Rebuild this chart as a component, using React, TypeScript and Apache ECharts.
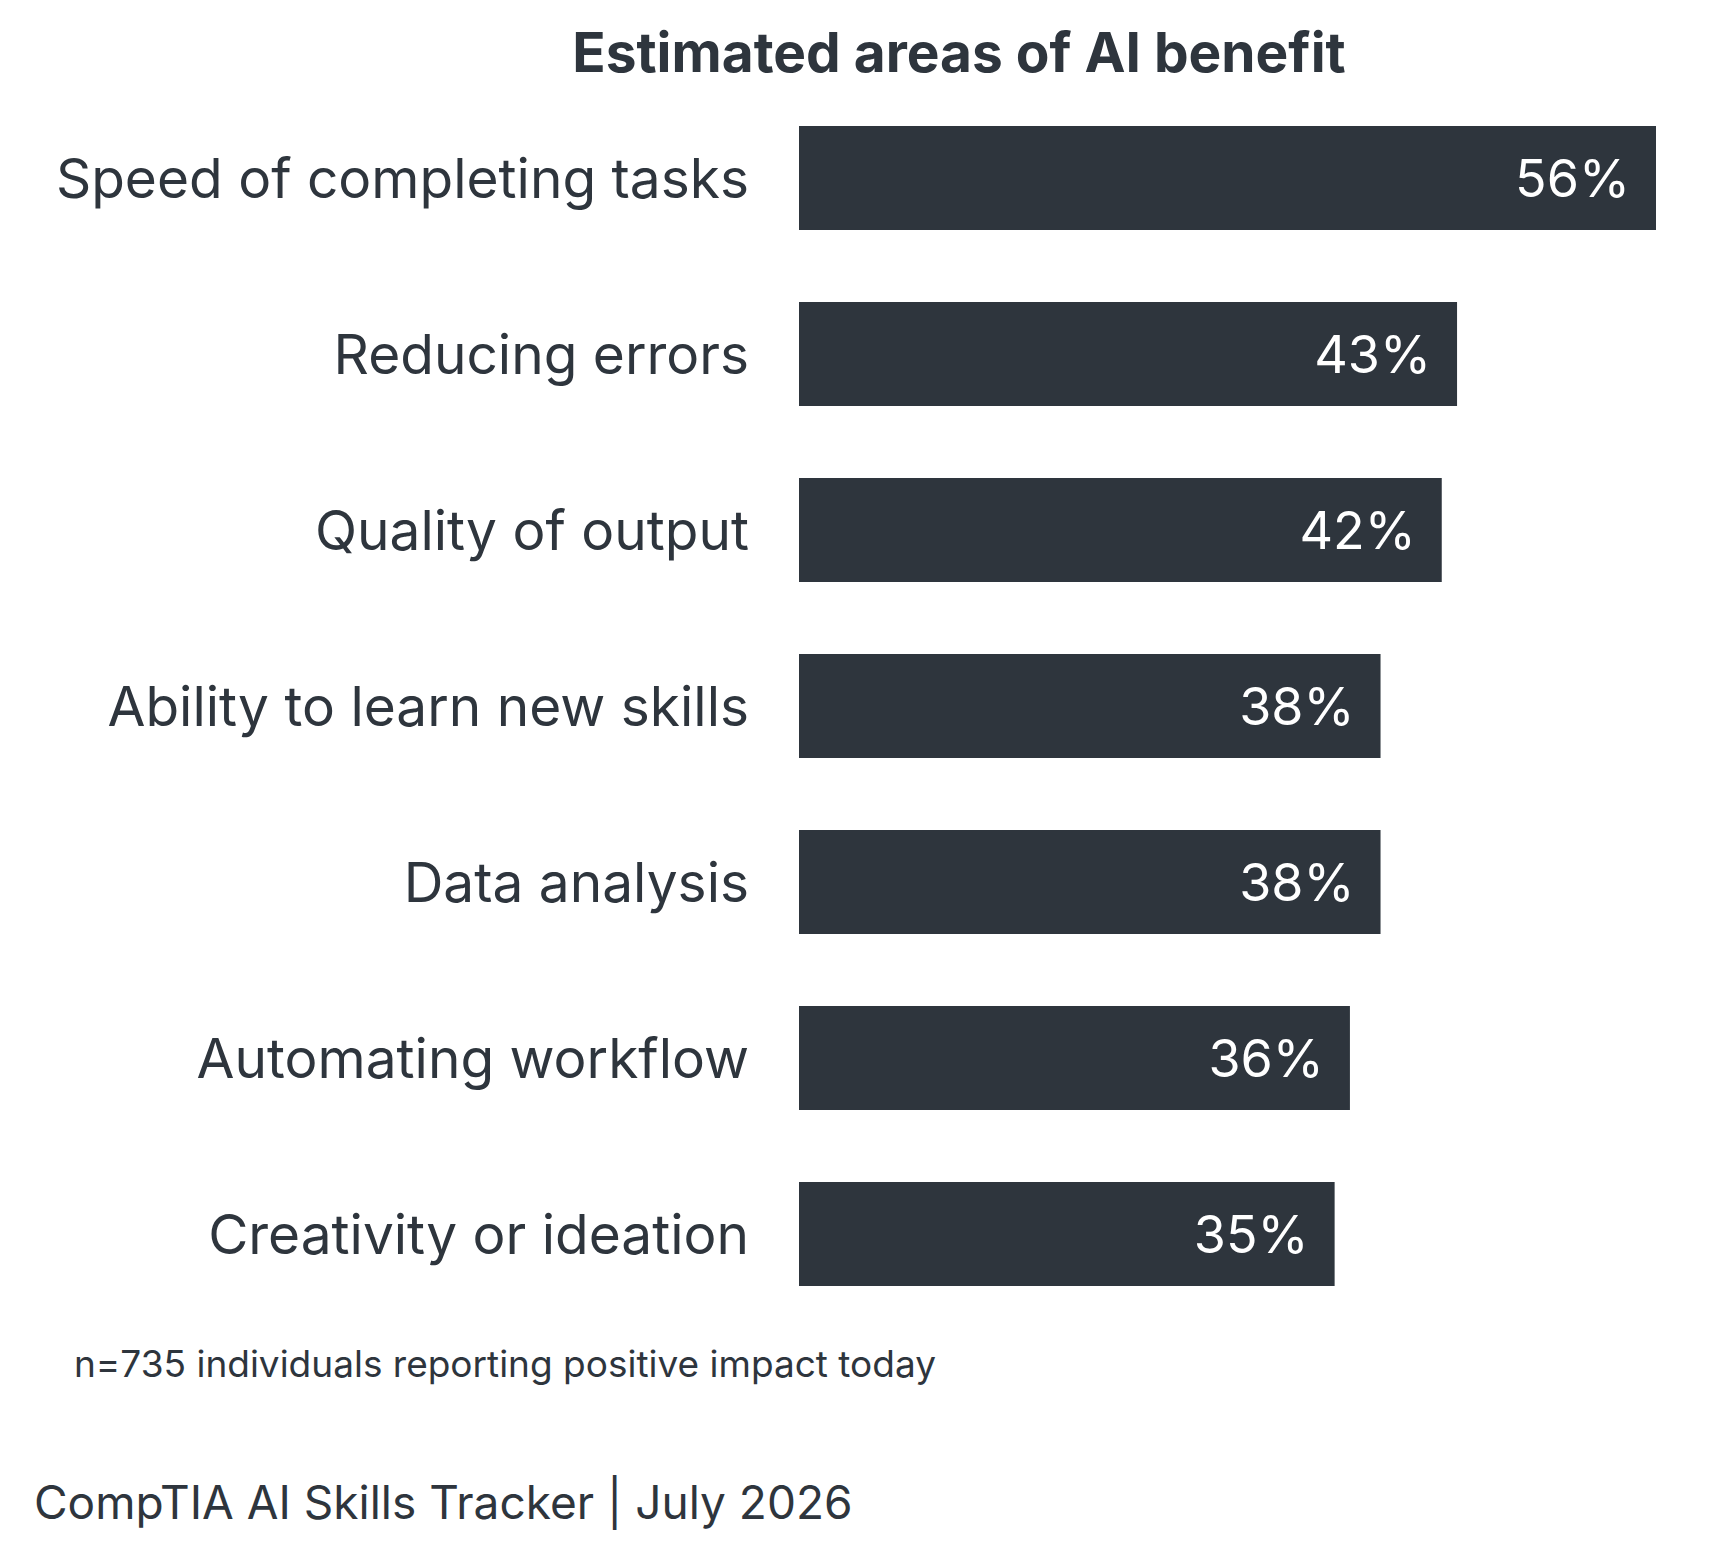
import React, { useEffect, useRef } from "react";
import * as echarts from "echarts";

const categories = [
  "Speed of completing tasks",
  "Reducing errors",
  "Quality of output",
  "Ability to learn new skills",
  "Data analysis",
  "Automating workflow",
  "Creativity or ideation",
];
const shares = [56, 43, 42, 38, 38, 36, 35];

const titleText = "Estimated areas of AI benefit";
const noteText = "n=735 individuals reporting positive impact today";
const sourceText = "CompTIA AI Skills Tracker | July 2026";

const INK = "#2e353d";
const FONT = "Inter, 'Noto Sans', sans-serif";

export default function App() {
  const ref = useRef<HTMLDivElement>(null);

  useEffect(() => {
    if (!ref.current) return;
    const chart = echarts.init(ref.current, null, { renderer: "svg" });
    chart.setOption({
      animation: false,
      backgroundColor: "#ffffff",
      grid: { left: 799, top: 90, width: 857, height: 1232, containLabel: false },
      xAxis: {
        type: "value",
        min: 0,
        max: 56,
        show: false,
      },
      yAxis: {
        type: "category",
        data: categories,
        inverse: true,
        axisLine: { show: false },
        axisTick: { show: false },
        splitLine: { show: false },
        axisLabel: {
          color: INK,
          fontFamily: FONT,
          fontSize: 55,
          margin: 50,
        },
      },
      series: [
        {
          type: "bar",
          data: shares,
          barWidth: 104,
          itemStyle: { color: INK },
          label: {
            show: true,
            position: "insideRight",
            distance: 26,
            color: "#ffffff",
            fontFamily: FONT,
            fontSize: 52,
            formatter: (p: any) => `${p.value}%`,
          },
        },
      ],
      graphic: [
        {
          type: "text",
          x: 959,
          y: 52,
          style: {
            text: titleText,
            fill: INK,
            font: `bold 55px ${FONT}`,
            textAlign: "center",
            textVerticalAlign: "middle",
          },
        },
        {
          type: "text",
          x: 74,
          y: 1363,
          style: {
            text: noteText,
            fill: INK,
            font: `37px ${FONT}`,
            textAlign: "left",
            textVerticalAlign: "middle",
          },
        },
        {
          type: "text",
          x: 34,
          y: 1502,
          style: {
            text: sourceText,
            fill: INK,
            font: `46px ${FONT}`,
            textAlign: "left",
            textVerticalAlign: "middle",
          },
        },
      ],
    });
    return () => chart.dispose();
  }, []);

  return (
    <div
      ref={ref}
      style={{ position: "absolute", left: 0, top: 0, width: 1716, height: 1557 }}
    />
  );
}
